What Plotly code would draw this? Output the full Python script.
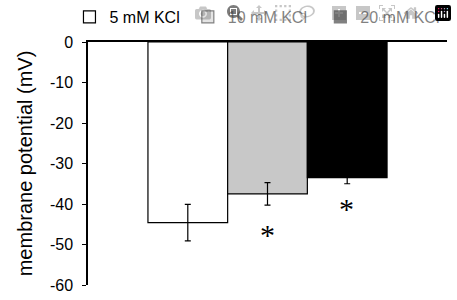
import plotly.graph_objects as go

categories = ["5 mM KCl", "10 mM KCl", "20 mM KCl"]
values = [-44.6, -37.5, -33.5]
errors = [4.5, 2.8, 1.5]
colors = ["#ffffff", "#c8c8c8", "#000000"]
stars = ["", "*", "*"]
star_y = [None, -46.5, -40.0]
legend_ids = ["legend", "legend2", "legend3"]
legend_x = [0.152, 0.411, 0.701]

fig = go.Figure()
for name, v, e, c, lg in zip(categories, values, errors, colors, legend_ids):
    fig.add_trace(go.Bar(
        x=["g"], y=[v], name=name, legend=lg,
        marker=dict(color=c, line=dict(color="#000000", width=1.2)),
        error_y=dict(type="data", array=[e], color="#000000", thickness=1.2, width=3),
        offsetgroup=name,
    ))

for i, (s, sy) in enumerate(zip(stars, star_y)):
    if s:
        fig.add_annotation(x="g", y=sy, text=s, showarrow=False,
                           xshift=(i - 1) * 79, yshift=-4,
                           font=dict(size=30, color="#000000", family="Liberation Serif"))

legend_style = dict(orientation="h", y=1.0, yref="container", yanchor="top",
                    xref="container", font=dict(size=16), itemwidth=30,
                    bgcolor="rgba(0,0,0,0)")

fig.update_layout(
    width=457, height=300,
    margin=dict(l=88, r=10, t=42, b=15, autoexpand=False),
    paper_bgcolor="#ffffff", plot_bgcolor="#ffffff",
    barmode="group", bargap=0.334, bargroupgap=0,
    font=dict(family="Liberation Sans, Arial", color="#000000"),
    showlegend=True,
    legend=dict(x=legend_x[0], **legend_style),
    legend2=dict(x=legend_x[1], **legend_style),
    legend3=dict(x=legend_x[2], **legend_style),
    xaxis=dict(side="top", showline=True, linecolor="#000000", linewidth=1.5,
               showticklabels=False, ticks="", showgrid=False, zeroline=False),
    yaxis=dict(range=[-60, 0], tickvals=[0, -10, -20, -30, -40, -50, -60],
               ticktext=["0", "-10", "-20", "-30", "-40", "-50", "-60"],
               showline=True, linecolor="#000000", linewidth=1.5,
               ticks="outside", ticklen=4, tickcolor="#000000",
               ticklabelstandoff=6, automargin=False,
               showgrid=False, zeroline=False, tickfont=dict(size=16),
               title=dict(text="membrane potential (mV)", font=dict(size=20), standoff=12)),
)

fig.write_html("out.html", post_script="document.body.style.margin='0';")
